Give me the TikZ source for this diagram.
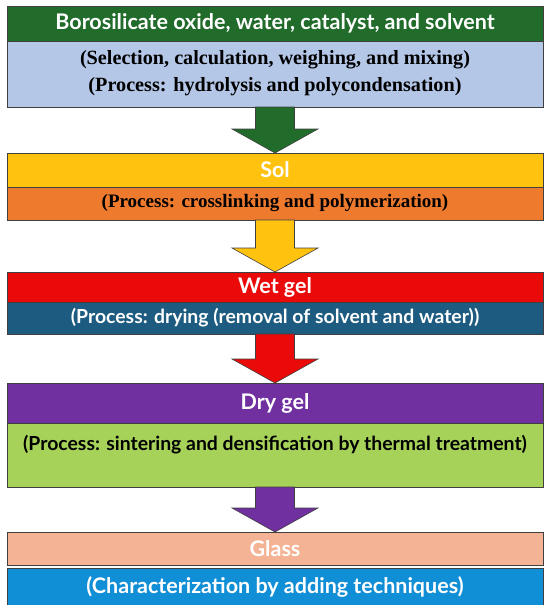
\documentclass[tikz,border=0pt]{standalone}
\usepackage{fontspec}
\setmainfont{Liberation Serif}
\setsansfont{Lato}
\usetikzlibrary{positioning,calc}

\definecolor{rawgreen}{HTML}{216B2B}
\definecolor{mixblue}{HTML}{B4C7E7}
\definecolor{solgold}{HTML}{FFC20E}
\definecolor{crossorange}{HTML}{EE7A2E}
\definecolor{wetred}{HTML}{EA0A0A}
\definecolor{dryblue}{HTML}{1D5C80}
\definecolor{drypurple}{HTML}{7030A0}
\definecolor{sinterlime}{HTML}{A6D25A}
\definecolor{glasspeach}{HTML}{F4B394}
\definecolor{charblue}{HTML}{108ED6}

% block arrow from the bottom of #1 to the top of #2
\newcommand{\blockarrow}[3]{%
  \filldraw[flow, fill=#3] ($(#1.south)+(-19.5,0)$) -- ($(#1.south)+(19.5,0)$)
    -- ($(#2.north)+(19.5,24)$) -- ($(#2.north)+(43,24)$) -- (#2.north)
    -- ($(#2.north)+(-43,24)$) -- ($(#2.north)+(-19.5,24)$) -- cycle;}

\begin{document}
\begin{tikzpicture}[x = 1pt, y = 1pt,
  band/.style = {draw = black!75, line width = .6pt, minimum width = 536pt,
                 inner sep = 0pt, outer sep = 0pt, align = center},
  head/.style = {band, text = white, font = \sffamily\bfseries\fontsize{21.5}{26}\selectfont},
  step line/.style = {band, font = \sffamily\bfseries\fontsize{19.4}{24}\selectfont},
  note/.style = {band, font = \bfseries\fontsize{20.2}{27}\selectfont},
  flow/.style = {draw = black!75, line width = .6pt}]
 \useasboundingbox (0, 0) rectangle (550, -605);
 \node[head, fill = rawgreen, minimum height = 35pt, anchor = north] (raw) at (275, -6)
   {Borosilicate oxide, water, catalyst, and solvent};
 \node[note, fill = mixblue, minimum height = 66pt, below = 0pt of raw] (mix)
   {(Selection, calculation, weighing, and mixing)\\(Process: hydrolysis and polycondensation)\\[-21pt]};
 \node[head, fill = solgold, minimum height = 34pt, anchor = north] (sol) at (275, -153) {Sol};
 \node[note, font = \bfseries\fontsize{19}{24}\selectfont, fill = crossorange,
   minimum height = 33pt, below = 0pt of sol] (cross)
   {(Process: crosslinking and polymerization)};
 \node[head, fill = wetred, minimum height = 30pt, anchor = north] (wet) at (275, -272) {Wet gel};
 \node[step line, text = white, fill = dryblue, minimum height = 32pt, below = 0pt of wet] (drying)
   {(Process: drying (removal of solvent and water))};
 \node[head, fill = drypurple, minimum height = 40pt, anchor = north] (dry) at (275, -383) {Dry gel};
 \node[step line, fill = sinterlime, text height = 27pt, text depth = 37pt,
   below = 0pt of dry] (sinter)
   {(Process: sintering and densification by thermal treatment)};
 \node[head, fill = glasspeach, minimum height = 33pt, anchor = north] (glass) at (275, -532) {Glass};
 \node[head, fill = charblue, minimum height = 38pt, below = 3pt of glass] (charact)
   {(Characterization by adding techniques)};

 \blockarrow{mix}{sol}{rawgreen}
 \blockarrow{cross}{wet}{solgold}
 \blockarrow{drying}{dry}{wetred}
 \blockarrow{sinter}{glass}{drypurple}
\end{tikzpicture}
\end{document}
